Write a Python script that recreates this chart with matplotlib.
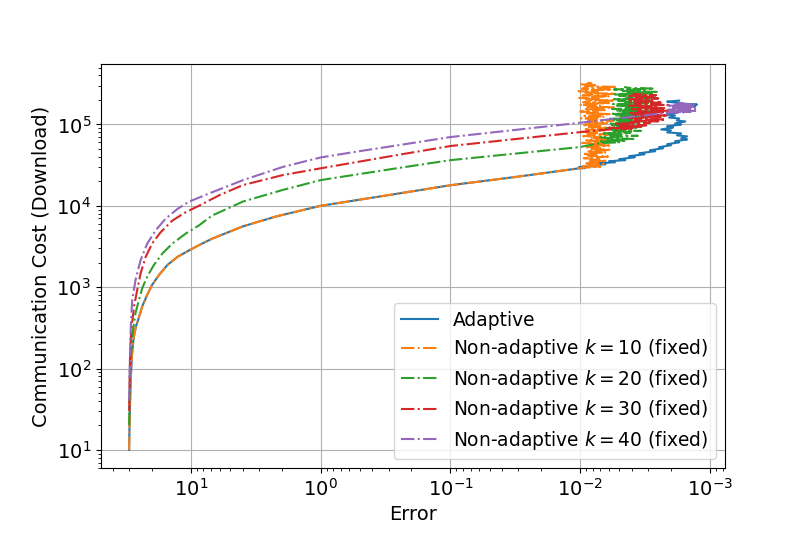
import numpy as np
import matplotlib
matplotlib.use("Agg")
import matplotlib.pyplot as plt

plt.rcParams['font.size'] = 14

# adaptive and k=10 share the same curve until the error floor
shared_err = [29.9, 29.7, 29.4, 29.0, 28.4, 27.6, 26.5, 25.3, 23.7, 21.7, 19.9, 17.6, 15.2, 12.7,
              10.07, 8.19, 6.86, 3.96, 2.19, 1.0, 0.5, 0.278, 0.1, 0.031, 0.0102]
shared_cost = [10, 20, 40, 80, 150, 240, 330, 410, 581, 805, 1066, 1413, 1868, 2355,
               2897, 3430, 3945, 5600, 7420, 10000, 11900, 13800, 17900, 22700, 28900]

# adaptive tail (drifts to smaller error)
adaptive_tail_err = [0.0092, 0.0102, 0.0077, 0.0085, 0.0064, 0.0071, 0.0054, 0.0060, 0.0045, 0.0050,
                     0.0038, 0.0042, 0.0032, 0.0035, 0.00265, 0.0029, 0.0023, 0.00247, 0.0020, 0.00214,
                     0.00173, 0.00186, 0.0015, 0.00167, 0.0015, 0.0018, 0.00167, 0.00214, 0.0020, 0.00238,
                     0.00193, 0.00214, 0.00167, 0.00186, 0.00155, 0.0018, 0.00173, 0.00207, 0.00186, 0.00214,
                     0.0018, 0.00193, 0.0015, 0.00167, 0.0013, 0.0015, 0.00126, 0.00161, 0.00186, 0.00214,
                     0.00173]
adaptive_tail_cost = [29000, 30000, 30800, 31600, 32400, 33400, 34300, 35300, 36400, 37400,
                      39500, 40700, 43000, 44300, 46900, 48200, 51000, 52500, 55500, 57100,
                      60300, 62000, 65500, 67500, 71300, 73400, 77600, 79800, 84500, 86800,
                      91900, 94500, 100000, 102700, 108800, 111900, 118400, 121700, 128800, 132400,
                      140100, 144000, 152300, 156600, 165800, 170600, 175400, 180400, 185500, 190800,
                      196300]

# k=10 tail (noisy, error floor ~0.005-0.01)
k10_tail_err = [0.0090, 0.0070, 0.0095, 0.0078, 0.0066, 0.0092, 0.0073, 0.0088, 0.0064, 0.0083,
                0.0069, 0.0094, 0.0076, 0.0061, 0.0087, 0.0072, 0.0096, 0.0080, 0.0063, 0.0089,
                0.0074, 0.0058, 0.0085, 0.0070, 0.0093, 0.0077, 0.0060, 0.0086, 0.0068, 0.0097,
                0.0079, 0.0062, 0.0090, 0.0073, 0.0057, 0.0084, 0.0069, 0.0095, 0.0078, 0.0061,
                0.0088, 0.0071, 0.0098, 0.0081, 0.0064, 0.0091, 0.0075, 0.0059, 0.0086, 0.0070,
                0.0096, 0.0079, 0.0062, 0.0092, 0.0074, 0.0056, 0.0087, 0.0071, 0.0099, 0.0082,
                0.0065, 0.0093, 0.0076, 0.0058, 0.0089, 0.0072, 0.0100, 0.0083, 0.0063, 0.0094,
                0.0077, 0.0055, 0.0088, 0.0070, 0.0101, 0.0084, 0.0060, 0.0095, 0.0076, 0.0054,
                0.0090, 0.0072, 0.0102, 0.0085, 0.0059, 0.0096, 0.0078, 0.0053, 0.0091, 0.0073,
                0.0103, 0.0086, 0.0057, 0.0097, 0.0079, 0.0052, 0.0092, 0.0074, 0.0101, 0.0082,
                0.0088]
k10_tail_cost = [29500, 30200, 30900, 31700, 32500, 33300, 34100, 34900, 35700, 36600,
                 37500, 38400, 39300, 40300, 41300, 42300, 43300, 44400, 45400, 46500,
                 47700, 48800, 50000, 51200, 52500, 53800, 55100, 56400, 57800, 59200,
                 60600, 62100, 63600, 65200, 66700, 68400, 70000, 71700, 73500, 75300,
                 77100, 79000, 80900, 82900, 84900, 86900, 89000, 91200, 93400, 95700,
                 98000, 100400, 102800, 105300, 107900, 110500, 113200, 115900, 118800, 121600,
                 124600, 127600, 130700, 133900, 137200, 140500, 143900, 147400, 151000, 154700,
                 158400, 162300, 166200, 170300, 174400, 178600, 183000, 187400, 192000, 196700,
                 201500, 206400, 211400, 216500, 221800, 227200, 232700, 238300, 244100, 250100,
                 256200, 262400, 268800, 275300, 282000, 288900, 295900, 303100, 310500, 318100,
                 325000]

k20_err = [29.9, 29.7, 29.4, 28.8, 27.9, 26.7, 25.1, 23.7, 21.7, 19.3, 16.6, 13.9, 11.0, 8.68,
           6.86, 3.96, 1.95, 1.0, 0.5, 0.25, 0.1, 0.03, 0.01, 0.0077]
k20_cost = [20, 40, 80, 160, 300, 482, 701, 973, 1346, 1868, 2590, 3430, 4540, 5730,
            7590, 11300, 15700, 20700, 24600, 29200, 36400, 44200, 52800, 57500]
k20_tail_err = [0.0068, 0.0050, 0.0072, 0.0044, 0.0063, 0.0039, 0.0058, 0.0070, 0.0046, 0.0036,
                0.0061, 0.0048, 0.0066, 0.0041, 0.0055, 0.0034, 0.0059, 0.0045, 0.0063, 0.0037,
                0.0052, 0.0032, 0.0057, 0.0043, 0.0060, 0.0035, 0.0050, 0.0031, 0.0056, 0.0040,
                0.0059, 0.0033, 0.0048, 0.0030, 0.0054, 0.0038, 0.0058, 0.0032, 0.0047, 0.0029,
                0.0053, 0.0036, 0.0057, 0.0031, 0.0046, 0.0028, 0.0052, 0.0035, 0.0056, 0.0030,
                0.0045, 0.0027, 0.0051, 0.0034, 0.0055, 0.0029, 0.0044, 0.0026, 0.0050, 0.0033,
                0.0056, 0.0028, 0.0043, 0.0025, 0.0049, 0.0032, 0.0055, 0.0027, 0.0042, 0.0046]
k20_tail_cost = [59000, 60400, 61800, 63200, 64700, 66200, 67700, 69300, 70900, 72500,
                 74200, 75900, 77700, 79500, 81400, 83300, 85200, 87200, 89200, 91300,
                 93400, 95600, 97800, 100100, 102400, 104800, 107200, 109700, 112300, 114900,
                 117600, 120300, 123100, 126000, 128900, 131900, 135000, 138100, 141300, 144600,
                 148000, 151400, 154900, 158500, 162200, 166000, 169900, 173800, 177900, 182000,
                 186200, 190600, 195000, 199500, 204200, 208900, 213800, 218700, 223800, 229000,
                 234400, 239800, 245400, 251100, 257000, 263000, 269100, 275300, 281700, 288300]

k30_err = [29.9, 29.7, 29.4, 28.8, 27.4, 25.9, 24.4, 22.3, 19.9, 17.1, 13.9, 11.0, 8.68, 5.98,
           3.96, 1.95, 1.0, 0.5, 0.25, 0.1, 0.03, 0.01, 0.0071]
k30_cost = [30, 60, 150, 300, 581, 927, 1480, 2355, 3430, 4740, 6580, 8320, 10000, 13600,
            18000, 23900, 28900, 35000, 42400, 54300, 66700, 80500, 85000]
k30_tail_err = [0.0056, 0.0040, 0.0060, 0.0034, 0.0050, 0.0031, 0.0046, 0.0055, 0.0029, 0.0041,
                0.0025, 0.0038, 0.0022, 0.0035, 0.0042, 0.0024, 0.0033, 0.0021, 0.0039, 0.0027,
                0.0041, 0.0023, 0.0036, 0.0020, 0.0032, 0.0040, 0.0022, 0.0034, 0.0026, 0.0042,
                0.0021, 0.0030, 0.0038, 0.0024, 0.0041, 0.0027, 0.0035, 0.0042, 0.0025, 0.0037,
                0.0028, 0.0042, 0.0026, 0.0039, 0.0033]
k30_tail_cost = [87000, 89000, 91100, 93200, 95400, 97600, 99900, 102200, 104600, 107000,
                 109500, 112100, 114700, 117400, 120100, 122900, 125800, 128700, 131700, 134800,
                 137900, 141100, 144400, 147800, 151200, 154700, 158300, 162000, 165800, 169700,
                 173600, 177700, 181800, 186000, 190400, 194800, 199300, 204000, 208700, 213600,
                 218500, 223600, 228800, 234200, 240000]

k40_err = [29.9, 29.7, 29.3, 28.9, 28.3, 26.7, 24.4, 21.7, 18.7, 15.7, 12.7, 10.4, 7.14,
           3.96, 1.95, 1.0, 0.5, 0.25, 0.1, 0.03, 0.01, 0.005, 0.00207]
k40_cost = [40, 80, 200, 400, 701, 1227, 2150, 3430, 4980, 6920, 9140, 11200, 14300,
            20700, 30100, 39300, 47000, 55700, 70000, 86500, 105000, 119400, 140000]
k40_tail_err = [0.0016, 0.0020, 0.0014, 0.0019, 0.0013, 0.0018, 0.00145, 0.0021, 0.0015, 0.0019,
                0.0013, 0.0017, 0.0020, 0.0014, 0.0018, 0.00135, 0.0019, 0.0015, 0.0021, 0.0014,
                0.0017, 0.0013, 0.0019, 0.0016, 0.0018]
k40_tail_cost = [141000, 142500, 144000, 145500, 147000, 148500, 150000, 151500, 153000, 154700,
                 156400, 158100, 159800, 161500, 163200, 165000, 166800, 168600, 170400, 172200,
                 174000, 176000, 178000, 180000, 182000]

fig, ax = plt.subplots(figsize=(8.06, 5.37), dpi=100)
fig.subplots_adjust(left=0.125, right=0.9, top=0.88, bottom=0.128)

ax.plot(shared_err + adaptive_tail_err, shared_cost + adaptive_tail_cost, '-', label='Adaptive')
ax.plot(shared_err + k10_tail_err, shared_cost + k10_tail_cost, '-.',
        label='Non-adaptive $k = 10$ (fixed)')
ax.plot(k20_err + k20_tail_err, k20_cost + k20_tail_cost, '-.',
        label='Non-adaptive $k = 20$ (fixed)')
ax.plot(k30_err + k30_tail_err, k30_cost + k30_tail_cost, '-.',
        label='Non-adaptive $k = 30$ (fixed)')
ax.plot(k40_err + k40_tail_err, k40_cost + k40_tail_cost, '-.',
        label='Non-adaptive $k = 40$ (fixed)')

ax.set_xscale('log')
ax.set_yscale('log')
ax.invert_xaxis()
ax.set_xlabel('Error')
ax.set_ylabel('Communication Cost (Download)')
ax.grid(True)
ax.legend(loc='lower right', fontsize=13.4, labelspacing=0.4)

fig.savefig('out.png', dpi=100)
